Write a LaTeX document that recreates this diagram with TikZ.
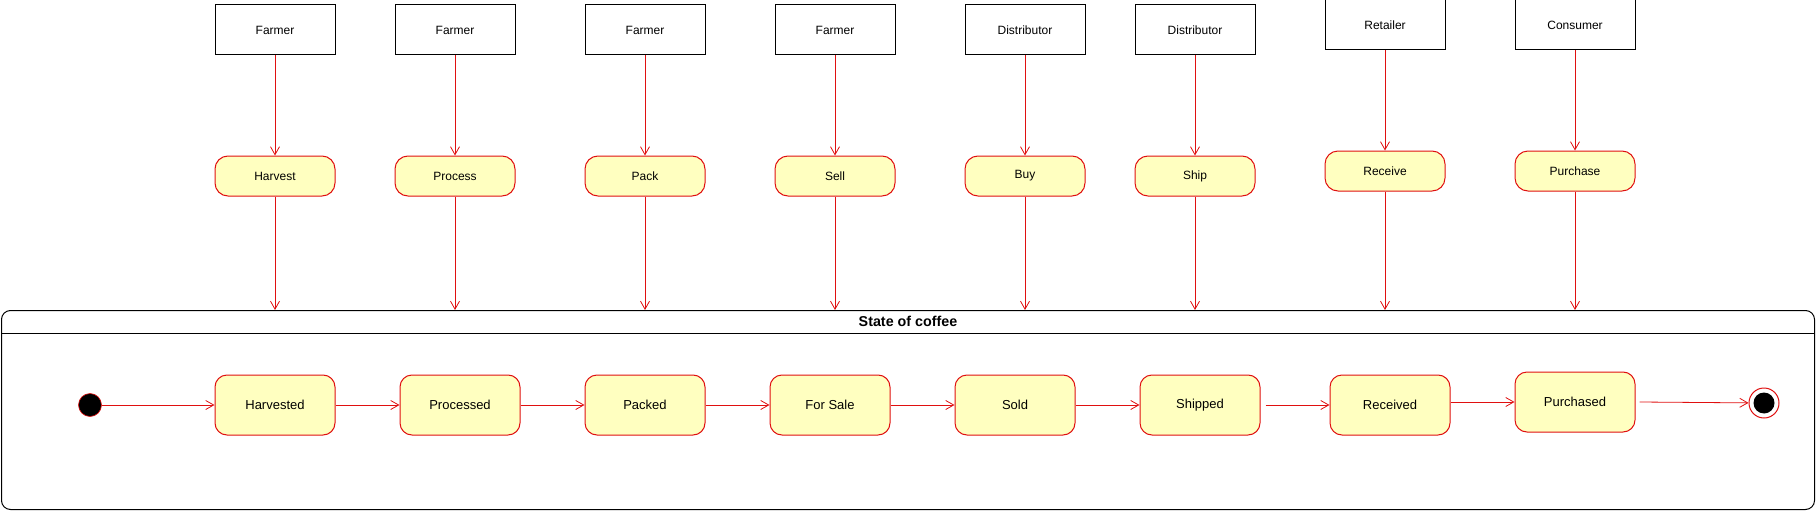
\documentclass[tikz,border=0pt]{standalone}
\usepackage{fontspec}
\setmainfont{Liberation Sans}
\usepackage{tikz}
\usetikzlibrary{shapes,arrows.meta,positioning}
\usepackage{xcolor}
\definecolor{umlred}{HTML}{E01010}
\definecolor{umlfill}{HTML}{FFFFC0}

\begin{document}
\begin{tikzpicture}[
    x=1pt, y=-1pt,
    node distance=64pt,
    actor/.style={rectangle, draw, line width=1pt, minimum width=120pt, minimum height=50pt, font=\fontsize{12}{14}\selectfont},
    action/.style={rectangle, draw=umlred, fill=umlfill, line width=1pt, rounded corners=13pt, minimum width=120pt, minimum height=40pt, font=\fontsize{12}{14}\selectfont},
    state/.style={rectangle, draw=umlred, fill=umlfill, line width=1pt, rounded corners=12pt, minimum width=120pt, minimum height=60pt, font=\fontsize{13}{15}\selectfont},
    lane/.style={rectangle, draw, line width=1pt, rounded corners=9pt, minimum width=1813pt, minimum height=199pt},
    arrow/.style={-{Straight Barb[length=8pt, width=9pt]}, draw=umlred, line width=0.8pt}
]
    \useasboundingbox (0,0) rectangle (1816,511);

    % who does it
    \node[actor] (farmerA) at (275,30) {Farmer};
    \node[actor] (farmerB) at (455,30) {Farmer};
    \node[actor] (farmerC) at (645,30) {Farmer};
    \node[actor] (farmerD) at (835,30) {Farmer};
    \node[actor] (distA) at (1025,30) {Distributor};
    \node[actor] (distB) at (1195,30) {Distributor};
    \node[actor] (retailer) at (1385,25) {Retailer};
    \node[actor] (consumer) at (1575,25) {Consumer};

    % what they do
    \node[action, below=100pt of farmerA] (harvest) {Harvest};
    \node[action, below=100pt of farmerB] (process) {Process};
    \node[action, below=100pt of farmerC] (pack) {Pack};
    \node[action, below=100pt of farmerD] (sell) {Sell};
    \node[action, below=100pt of distA] (buy) {Buy};
    \node[action, below=100pt of distB] (ship) {Ship};
    \node[action, below=100pt of retailer] (receive) {Receive};
    \node[action, below=100pt of consumer] (purchase) {Purchase};

    % state machine
    \node[lane] (lane) at (908,410) {};
    \node[below=0pt of lane.north, inner sep=0pt, minimum height=23pt, font=\fontsize{14.3}{16}\selectfont\bfseries] (title) {State of coffee};
    \draw[line width=1pt] (lane.west |- title.south) -- (lane.east |- title.south);

    \node[circle, fill=black, draw=umlred, line width=0.6pt, minimum size=23pt, inner sep=0pt] (init) at (90,405) {};
    \node[state] (harvested) at (275,405) {Harvested};
    \node[state, right=of harvested] (processed) {Processed};
    \node[state, right=of processed] (packed) {Packed};
    \node[state, right=of packed] (forsale) {For Sale};
    \node[state, right=of forsale] (sold) {Sold};
    \node[state, right=of sold] (shipped) {Shipped};
    \node[state, right=69pt of shipped] (received) {Received};
    \node[state, right=of received, yshift=3pt] (purchased) {Purchased};
    \node[circle, draw=umlred, fill=white, line width=1pt, minimum size=30pt, inner sep=0pt] (final) at (1764,403) {};
    \node[circle, fill=black, minimum size=21pt, inner sep=0pt] at (final) {};

    \foreach \who/\what in {farmerA/harvest, farmerB/process, farmerC/pack, farmerD/sell, distA/buy, distB/ship, retailer/receive, consumer/purchase} {
        \draw[arrow] (\who) -- (\what);
        \draw[arrow] (\what) -- (\what.south |- lane.north);
    }

    \draw[arrow] (init) -- (harvested);
    \draw[arrow] (harvested) -- (processed);
    \draw[arrow] (processed) -- (packed);
    \draw[arrow] (packed) -- (forsale);
    \draw[arrow] (forsale) -- (sold);
    \draw[arrow] (sold) -- (shipped);
    \draw[arrow] ([xshift=5pt]shipped.east) -- (received);
    \draw[arrow] (received.east |- purchased.west) -- (purchased.west);
    \draw[arrow] ([xshift=4pt]purchased.east) -- (final);
\end{tikzpicture}
\end{document}
